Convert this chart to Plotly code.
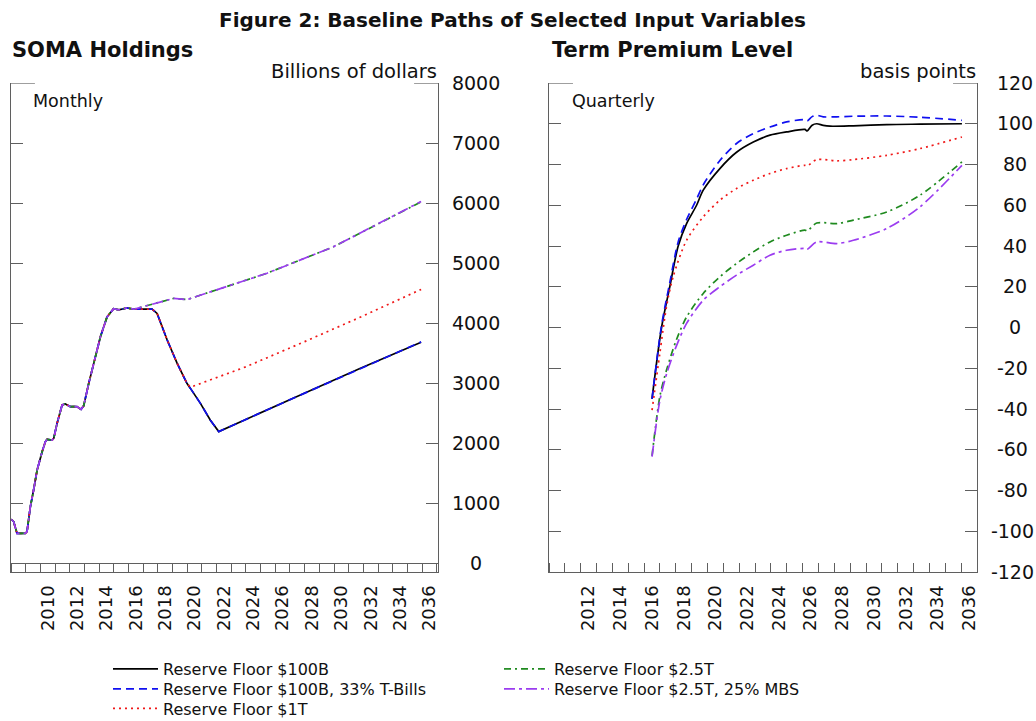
import plotly.graph_objects as go

# ---------------- data: SOMA holdings (billions of dollars, monthly) ----------------
soma_hist_t = [2008.02, 2008.18, 2008.41, 2008.98, 2009.09, 2009.32, 2009.54, 2009.78,
               2010.12, 2010.34, 2010.46, 2010.80, 2010.91, 2011.14, 2011.48, 2011.70,
               2012.04, 2012.50, 2012.77, 2012.95, 2013.29, 2013.52, 2014.09, 2014.54,
               2014.99, 2015.33, 2015.91, 2016.36]
soma_hist_v = [728, 690, 495, 495, 522, 938, 1217, 1550,
               1855, 2022, 2061, 2050, 2078, 2328, 2633, 2650,
               2605, 2605, 2561, 2620, 2990, 3220, 3770, 4100,
               4240, 4220, 4250, 4230]

soma_100b_t = [2017.61, 2017.95, 2018.63, 2019.31, 2019.99, 2020.22, 2020.90, 2021.58,
               2022.15, 2027.25, 2031.80, 2035.93]
soma_100b_v = [4230, 4160, 3720, 3330, 2990, 2910, 2660, 2380,
               2190, 2750, 3245, 3680]
soma_tbills_t = [2017.61, 2017.95, 2018.63, 2019.31, 2019.99, 2020.22, 2020.90, 2021.58,
                 2022.15, 2027.25, 2031.80, 2035.93]
soma_tbills_v = [4230, 4160, 3720, 3330, 2990, 2910, 2660, 2380,
                 2190, 2750, 3245, 3685]
soma_1t_t = [2017.61, 2017.95, 2018.63, 2019.31, 2019.99, 2020.22, 2024.00, 2028.00,
             2032.00, 2035.93]
soma_1t_v = [4230, 4160, 3720, 3330, 2990, 2930, 3270, 3690, 4120, 4560]
soma_25t_t = [2018.17, 2019.08, 2019.99, 2022.15, 2025.44, 2029.96, 2035.93]
soma_25t_v = [4355, 4410, 4390, 4567, 4830, 5270, 6020]
soma_25t_mbs_t = [2018.17, 2019.08, 2019.99, 2022.15, 2025.44, 2029.96, 2035.93]
soma_25t_mbs_v = [4355, 4410, 4390, 4567, 4830, 5270, 6025]

# ---------------- data: term premium level (basis points, quarterly) ----------------
tp_100b_t = [2016.50, 2017.10, 2017.62, 2018.15, 2018.68, 2019.31, 2019.73, 2020.78,
             2021.83, 2022.89, 2023.94, 2024.99, 2026.14, 2026.29, 2026.60, 2026.89,
             2027.30, 2027.73, 2029.20, 2031.31, 2033.40, 2036.05]
tp_100b_v = [-35, 0, 20, 40, 51, 60, 67.4, 78,
             86, 91, 94.4, 96, 97.2, 96.5, 99.3, 100,
             99.2, 98.8, 99, 99.6, 99.8, 100]
tp_tbills_t = [2016.50, 2017.10, 2017.62, 2018.15, 2018.68, 2019.31, 2019.73, 2020.78,
               2021.83, 2022.89, 2023.94, 2024.99, 2026.14, 2026.29, 2026.60, 2026.89,
               2027.30, 2028.15, 2029.20, 2031.31, 2033.40, 2036.05]
tp_tbills_v = [-35, 1, 22, 42, 53, 63, 70, 82,
               90.3, 95.2, 98.4, 100.9, 102, 101.4, 103.5, 104.2,
               103.4, 103.4, 103.7, 103.8, 103.2, 101.7]
tp_1t_t = [2016.50, 2016.99, 2017.41, 2017.83, 2018.68, 2019.73, 2020.78, 2021.83,
           2022.89, 2023.94, 2024.99, 2026.14, 2026.29, 2026.89, 2028.15, 2029.20,
           2031.31, 2033.40, 2036.05]
tp_1t_v = [-40.6, -12.8, 10.1, 24.9, 42.8, 54.3, 62.5, 68.2,
           72.3, 75.6, 78, 79.6, 79.3, 82.4, 81.8, 82.4,
           84.5, 87.8, 93.5]
tp_25t_t = [2016.50, 2016.99, 2017.41, 2018.04, 2018.68, 2019.73, 2020.78, 2021.83,
            2022.89, 2023.94, 2024.99, 2026.14, 2026.29, 2026.89, 2028.15, 2029.20,
            2031.31, 2033.40, 2036.05]
tp_25t_v = [-63, -34, -21, -6, 5.2, 16.7, 24.9, 31.4,
            37.1, 42, 45.3, 47.8, 47.4, 51.3, 51, 52.7,
            56.7, 64.9, 81.3]
tp_25t_mbs_t = [2016.50, 2016.99, 2017.41, 2018.04, 2018.68, 2019.73, 2020.78, 2021.83,
                2022.89, 2023.94, 2024.99, 2026.14, 2026.29, 2026.89, 2028.15, 2029.20,
                2031.31, 2033.40, 2036.05]
tp_25t_mbs_v = [-63.4, -36, -23, -9, 2, 13.4, 20, 25.7,
                30.6, 35.5, 37.9, 38.8, 38.4, 42, 41.2, 42.8,
                48.6, 59.2, 79.6]

series_names = ["Reserve Floor $100B", "Reserve Floor $100B, 33% T-Bills",
                "Reserve Floor $1T", "Reserve Floor $2.5T", "Reserve Floor $2.5T, 25% MBS"]

soma_year_labels = [str(y) for y in range(2010, 2037, 2)]
tp_year_labels = [str(y) for y in range(2012, 2037, 2)]
soma_ticks = list(range(0, 8001, 1000))
tp_ticks = list(range(-120, 121, 20))

# ---------------- styling ----------------
colors = ["#000000", "#1010f0", "#f01818", "#1f8a1f", "#9b3cf0"]
dashes = ["solid", "8px,5px", "2px,4px", "7px,4px,2px,4px", "11px,4px,3px,4px"]
FONT = "DejaVu Sans"
AX = "#5f5f5f"
W, H = 1036, 721
# one single-entry legend per legend slot: (left px, row centre px)
legend_slots = [(108, 669), (108, 689), (108, 708.5), (499, 669), (499, 689)]
legend_ids = ["legend", "legend2", "legend3", "legend4", "legend5"]

soma_proj = [(soma_100b_t, soma_100b_v), (soma_tbills_t, soma_tbills_v),
             (soma_1t_t, soma_1t_v), (soma_25t_t, soma_25t_v),
             (soma_25t_mbs_t, soma_25t_mbs_v)]
tp_data = [(tp_100b_t, tp_100b_v), (tp_tbills_t, tp_tbills_v), (tp_1t_t, tp_1t_v),
           (tp_25t_t, tp_25t_v), (tp_25t_mbs_t, tp_25t_mbs_v)]

fig = go.Figure()
for i, name in enumerate(series_names):
    pt, pv = soma_proj[i]
    fig.add_trace(go.Scatter(
        x=soma_hist_t + pt, y=soma_hist_v + pv, mode="lines", name=name,
        line=dict(color=colors[i], dash=dashes[i], width=1.7),
        xaxis="x", yaxis="y", legend=legend_ids[i], showlegend=True))
for i, name in enumerate(series_names):
    tt, tv = tp_data[i]
    fig.add_trace(go.Scatter(
        x=tt, y=tv, mode="lines", name=name, showlegend=False,
        line=dict(color=colors[i], dash=dashes[i], width=1.7, shape="spline", smoothing=0.8),
        xaxis="x2", yaxis="y2"))


def pad_center(labels, maxlab):
    # centre right-side labels using figure (digit-wide) / punctuation (half) spaces
    def w(s):
        return sum(0.361 if c == "-" else 0.636 for c in s)
    out = []
    for s in labels:
        half = (w(maxlab) - w(s)) / 2
        n_half = int(round(half / 0.318))
        out.append("\u2007" * (n_half // 2) + "\u2008" * (n_half % 2) + s)
    return out


ydom = [1 - 572 / H, 1 - 83 / H]
x1dom = [11 / W, 438 / W]
x2dom = [549 / W, 977 / W]

common_x = dict(showline=True, linecolor=AX, linewidth=1.2, mirror=False, showgrid=False,
                zeroline=False, ticks="", tickangle=-90, ticklabelstandoff=5, automargin=False,
                tickfont=dict(family=FONT, size=18, color="#111"),
                minor=dict(tickmode="linear", dtick=1, ticks="inside", ticklen=9,
                           tickcolor=AX, tickwidth=1.2, showgrid=False))
common_y = dict(showline=True, linecolor=AX, linewidth=1.2, mirror="ticks", showgrid=False,
                side="right", ticks="inside", ticklen=12, tickcolor=AX, tickwidth=1.2,
                ticklabelstandoff=9, automargin=False,
                tickfont=dict(family=FONT, size=19, color="#111"))

layout_legends = {}
for lid, (lx, ly) in zip(legend_ids, legend_slots):
    layout_legends[lid] = dict(x=lx / W, y=1 - ly / H, xanchor="left", yanchor="middle",
                               font=dict(family=FONT, size=16, color="#111"),
                               bgcolor="rgba(0,0,0,0)", borderwidth=0, itemwidth=45,
                               tracegroupgap=0)

fig.update_layout(
    width=W, height=H, margin=dict(l=0, r=0, t=0, b=0, pad=0, autoexpand=False),
    paper_bgcolor="white", plot_bgcolor="white",
    xaxis=dict(domain=x1dom, range=[2008, 2037.08], anchor="y",
               tickvals=[int(s) + 0.5 for s in soma_year_labels], ticktext=soma_year_labels,
               **{**common_x, "minor": {**common_x["minor"], "tick0": 2008}}),
    yaxis=dict(domain=ydom, range=[-150, 8000], anchor="x", tickvals=soma_ticks,
               ticktext=pad_center([str(v) for v in soma_ticks], "8000"),
               zeroline=True, zerolinecolor=AX, zerolinewidth=1.2, **common_y),
    xaxis2=dict(domain=x2dom, range=[2010, 2037], anchor="y2",
                tickvals=[int(s) + 0.5 for s in tp_year_labels], ticktext=tp_year_labels,
                **{**common_x, "minor": {**common_x["minor"], "tick0": 2010}}),
    yaxis2=dict(domain=ydom, range=[-120, 120], anchor="x2", tickvals=tp_ticks,
                ticktext=pad_center([str(v) for v in tp_ticks], "-120"),
                zeroline=False, **common_y),
    showlegend=True,
    **layout_legends,
)

# open top frame: short corner segments only
for xr, yr, ytop in [("x domain", "y", 8000), ("x2 domain", "y2", 120)]:
    for a, b in [(0, 0.056), (0.944, 1)]:
        fig.add_shape(type="line", xref=xr, yref=yr, x0=a, x1=b, y0=ytop, y1=ytop,
                      line=dict(color=AX, width=1.2))

ann = [
    ("<b>Figure 2: Baseline Paths of Selected Input Variables</b>", 512, 20, "center", 20),
    ("<b>SOMA Holdings</b>", 10, 50, "left", 21),
    ("<b>Term Premium Level</b>", 550, 50, "left", 21),
    ("Billions of dollars", 439, 72, "right", 19.5),
    ("basis points", 978, 72, "right", 19.5),
    ("Monthly", 31, 101, "left", 17.5),
    ("Quarterly", 570, 101, "left", 17.5),
]
for text, px, py, anc, size in ann:
    fig.add_annotation(text=text, x=px / W, y=1 - py / H, xref="paper", yref="paper",
                       xanchor=anc, yanchor="middle", showarrow=False,
                       font=dict(family=FONT, size=size, color="#111"))

fig.write_html("out.html")
